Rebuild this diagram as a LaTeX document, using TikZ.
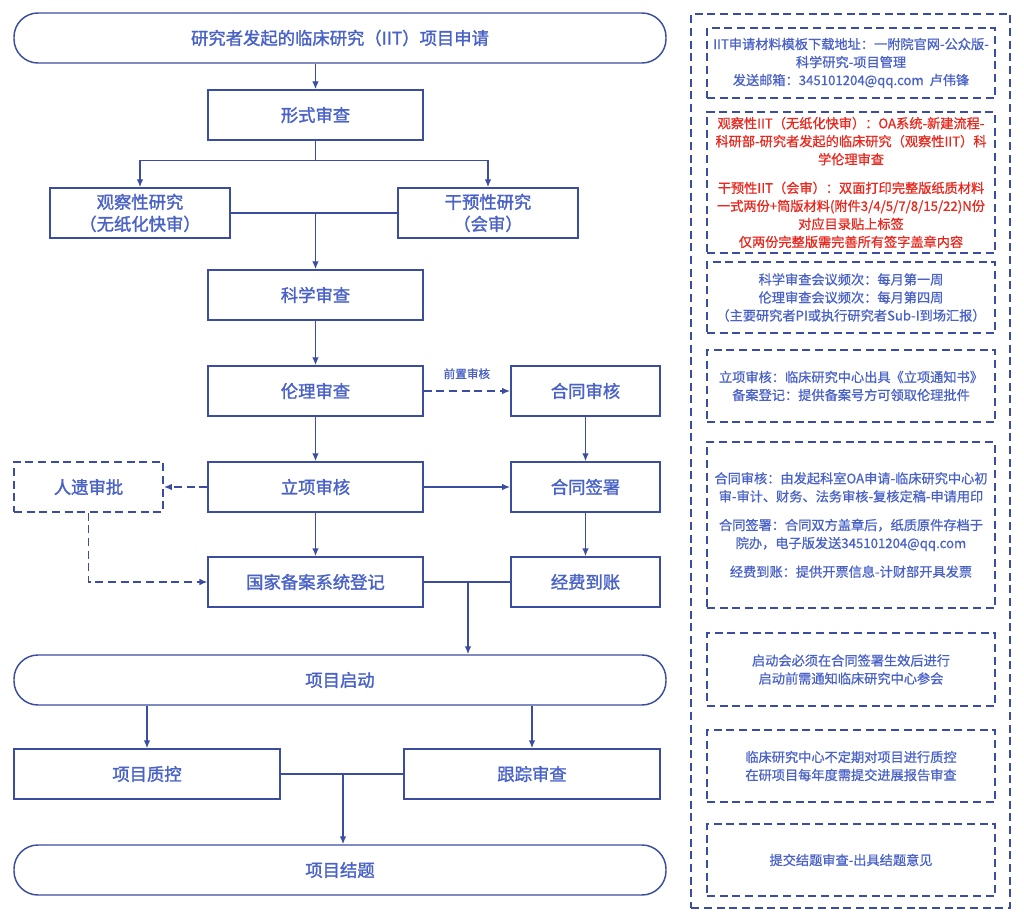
\documentclass[tikz,border=0pt]{standalone}
\usepackage{fontspec}
\setmainfont{Noto Sans CJK SC}
\newfontfamily\boldcjk{Noto Sans CJK SC}[FakeBold=1.6]
\newfontfamily\notecjk{Noto Sans CJK SC}[FakeBold=0.9]
\usetikzlibrary{arrows.meta}
\usetikzlibrary{positioning}
\definecolor{lineblue}{HTML}{3A4DA0}
\definecolor{textblue}{HTML}{4A62C8}
\definecolor{notered}{HTML}{E8281E}
\tikzset{
  proc/.style={draw=lineblue,line width=1.1pt,text=textblue,inner sep=0pt,
    font=\boldcjk\fontsize{13}{16.5}\selectfont,align=center,minimum height=37.5pt},
  wide/.style={proc,minimum width=161pt},
  narrow/.style={proc,minimum width=112pt},
  half/.style={proc,minimum width=#1*0.75pt},
  term/.style={proc,rounded corners=18pt,minimum width=489pt},
  dashbox/.style={dash pattern=on 6pt off 3.5pt},
  note/.style={draw=lineblue,line width=1.1pt,dashbox,text=textblue,inner sep=0pt,
    font=\notecjk\fontsize{9.9}{13.5}\selectfont,align=center,minimum width=216pt,minimum height=#1*0.75pt},
  arr/.style={draw=lineblue,line width=1.1pt,-{Latex[length=6pt,width=5pt]}},
  link/.style={draw=lineblue,line width=1.1pt}
}
\begin{document}
\begin{tikzpicture}[x=0.75pt,y=-0.75pt]
  \useasboundingbox (0,0) rectangle (1024,923);
  % main flow
  \node[term] (apply) at (340,38) {研究者发起的临床研究（IIT）项目申请};
  \node[wide] (formal) at (315.5,115) {形式审查};
  \node[half=180] (obs) at (140,213) {观察性研究\\（无纸化快审）};
  \node[half=180] (interv) at (488,213) {干预性研究\\（会审）};
  \node[wide] (science) at (315.5,295) {科学审查};
  \node[wide] (ethics) at (315.5,391) {伦理审查};
  \node[narrow] (contract) at (585.5,391) {合同审核};
  \node[wide] (project) at (315.5,487) {立项审核};
  \node[narrow] (sign) at (585.5,487) {合同签署};
  \node[narrow,dashbox] (genetic) at (88.5,487) {人遗审批};
  \node[wide] (filing) at (315.5,582) {国家备案系统登记};
  \node[narrow] (funds) at (585.5,582) {经费到账};
  \node[term] (start) at (340,680) {项目启动};
  \node[half=266] (qc) at (147,774) {项目质控};
  \node[half=256] (track) at (532,774) {跟踪审查};
  \node[term] (finish) at (340,870) {项目结题};
  % connectors
  \draw[arr] (formal |- apply.south) -- (formal);
  \draw[link] (formal.south) -- ++(0,20) coordinate (split);
  \draw[arr] (split) -| (obs.north);
  \draw[arr] (split) -| (interv.north);
  \draw[link] (obs) -- (interv);
  \draw[arr] (science |- obs.east) -- (science);
  \draw[arr] (science) -- (ethics);
  \draw[arr,dashbox] (ethics) -- node[above=5pt,text=textblue,font=\notecjk\fontsize{8.7}{10}\selectfont] {前置审核} (contract);
  \draw[arr] (ethics) -- (project);
  \draw[arr] (contract) -- (sign);
  \draw[arr,dashbox] (project) -- (genetic);
  \draw[arr] (project) -- (sign);
  \draw[arr] (project) -- (filing);
  \draw[arr] (sign) -- (funds);
  \draw[arr,dashbox] (genetic.south) |- (filing.west);
  \draw[link] (filing) -- (funds);
  \coordinate (merge) at (468,582);
  \draw[arr] (merge) -- (merge |- start.north);
  \draw[arr] (start.south -| qc) -- (qc);
  \draw[arr] (start.south -| track) -- (track);
  \draw[link] (qc) -- (track);
  \coordinate (join) at (343,774);
  \draw[arr] (join) -- (join |- finish.north);
  % notes panel
  \node[draw=lineblue,line width=1.1pt,dashbox,minimum width=239pt,minimum height=670.5pt] (panel) at (850.5,461) {};
  \node[note=70] (n1) at (851,63) {IIT申请材料模板下载地址：一附院官网-公众版-\\科学研究-项目管理\\发送邮箱：345101204@qq.com\ \ 卢伟锋};
  \node[note=141,text=notered] (n2) at (851,182.5) {观察性IIT（无纸化快审）：OA系统-新建流程-\\科研部-研究者发起的临床研究（观察性IIT）科\\学伦理审查\\[8pt]干预性IIT（会审）：双面打印完整版纸质材料\\一式两份+简版材料(附件3/4/5/7/8/15/22)N份\\对应目录贴上标签\\仅两份完整版需完善所有签字盖章内容};
  \node[note=71] (n3) at (851,297.5) {科学审查会议频次：每月第一周\\伦理审查会议频次：每月第四周\\（主要研究者PI或执行研究者Sub-I到场汇报）};
  \node[note=72] (n4) at (851,386) {立项审核：临床研究中心出具《立项通知书》\\备案登记：提供备案号方可领取伦理批件};
  \node[note=166] (n5) at (851,525) {合同审核：由发起科室OA申请-临床研究中心初\\审-审计、财务、法务审核-复核定稿-申请用印\\[8pt]合同签署：合同双方盖章后，纸质原件存档于\\院办，电子版发送345101204@qq.com\\[8pt]经费到账：提供开票信息-计财部开具发票};
  \node[note=73] (n6) at (851,669.5) {启动会必须在合同签署生效后进行\\启动前需通知临床研究中心参会};
  \node[note=72] (n7) at (851,766) {临床研究中心不定期对项目进行质控\\在研项目每年度需提交进展报告审查};
  \node[note=72] (n8) at (851,860) {提交结题审查-出具结题意见};
\end{tikzpicture}
\end{document}
